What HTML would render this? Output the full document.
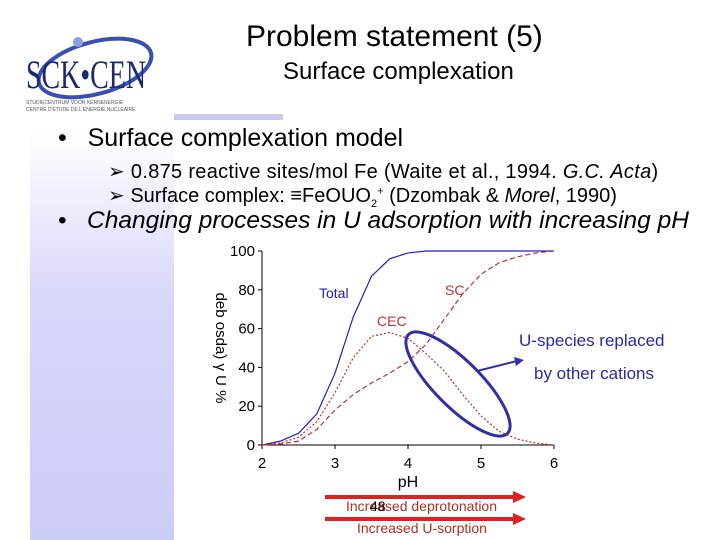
<!DOCTYPE html>
<html><head><meta charset="utf-8"><style>
body{margin:0;width:720px;height:540px;overflow:hidden;background:#fff;font-family:"Liberation Sans",sans-serif;position:relative}
.a{position:absolute;white-space:nowrap}
</style></head><body>
<div class="a" style="left:30px;top:130px;width:144px;height:410px;background:linear-gradient(#fff,#d8d8fa 40%,#ccccf8)"></div>
<div class="a" style="left:174px;top:114px;width:109px;height:6px;background:#c8c8f0"></div>
<svg class="a" style="left:20px;top:30px" width="140" height="85">
<ellipse cx="75" cy="38" rx="58" ry="26" fill="none" stroke="#3a4fb0" stroke-width="4" transform="rotate(-15 75 38)"/>
<circle cx="58" cy="12" r="5" fill="#8fa0e0"/>
<text x="6" y="58" font-family="Liberation Serif" font-size="40" fill="#1a2a70" textLength="120" lengthAdjust="spacingAndGlyphs">SCK•CEN</text>
<text x="6" y="74" font-size="5" fill="#555">STUDIECENTRUM VOOR KERNENERGIE</text>
<text x="6" y="81" font-size="5" fill="#555">CENTRE D'ETUDE DE L'ENERGIE NUCLEAIRE</text>
</svg>
<div class="a" style="left:246px;top:20px;font-size:30px">Problem statement (5)</div>
<div class="a" style="left:283px;top:58px;font-size:24px">Surface complexation</div>
<div class="a" style="left:58px;top:124px;font-size:25px">•&nbsp;&nbsp; Surface complexation model</div>
<div class="a" style="left:108px;top:159px;font-size:20px;letter-spacing:0.3px">➢ 0.875 reactive sites/mol Fe (Waite et al., 1994. <i>G.C. Acta</i>)</div>
<div class="a" style="left:108px;top:183px;font-size:20px;letter-spacing:0px">➢ Surface complex: ≡FeOUO<sub style="font-size:11px">2</sub><sup style="font-size:11px">+</sup> (Dzombak &amp; <i>Morel</i>, 1990)</div>
<div class="a" style="left:58px;top:207px;font-size:24.5px;letter-spacing:0px">•&nbsp;&nbsp; <i>Changing processes in U adsorption with increasing pH</i></div>
<svg id="chart" class="a" style="left:0;top:0" width="720" height="540"></svg>
<div class="a" style="left:519px;top:331px;font-size:17px;color:#2a2aa0">U-species replaced</div>
<div class="a" style="left:534px;top:364px;font-size:17px;color:#2a2aa0">by other cations</div>
<div class="a" style="left:346px;top:498px;font-size:14px;color:#b03020">Increased deprotonation</div>
<div class="a" style="left:370px;top:498px;font-size:14px;color:#000">48</div>
<div class="a" style="left:357px;top:520px;font-size:14px;color:#b03020">Increased U-sorption</div>
<script>
const pH=[2,2.25,2.5,2.75,3,3.25,3.5,3.75,4,4.25,4.5,4.75,5,5.25,5.5,5.75,6];
const total=[0,2,6,16,37,66,87,96,99,100,100,100,100,100,100,100,100];
const cec=[0,1,4,12,27,45,56,58,55,47,38,26,15,7,3,1,0];
const sc=[0,0.5,2,8,18,26,32,37,43,52,65,78,88,94,97,99,100];
const xTicks=[2,3,4,5,6];
const yTicks=[0,20,40,60,80,100];
const svg=document.getElementById('chart');const NS='http://www.w3.org/2000/svg';
const X=v=>262+(v-2)*73, Y=v=>445-v*1.94;
function mk(t,a,p){const e=document.createElementNS(NS,t);for(const k in a)e.setAttribute(k,a[k]);(p||svg).appendChild(e);return e;}
const ax=mk('path',{d:`M${X(2)},${Y(100)}V${Y(0)}H${X(6)}`,stroke:'#000',fill:'none','stroke-width':1});

xTicks.forEach(t=>{const l=mk('line',{x1:X(t),x2:X(t),y1:Y(0),y2:Y(0)+4,stroke:'#000'});
const tx=mk('text',{x:X(t),y:Y(0)+23,'font-size':15,'text-anchor':'middle'});tx.textContent=t;});
yTicks.forEach(t=>{const l=mk('line',{x1:X(2)-4,x2:X(2),y1:Y(t),y2:Y(t),stroke:'#000'});
const tx=mk('text',{x:X(2)-7,y:Y(t)+5,'font-size':15,'text-anchor':'end'});tx.textContent=t;});
const xt=mk('text',{x:X(4),y:487,'font-size':16,'text-anchor':'middle'});xt.textContent='pH';
const yt=mk('text',{x:0,y:0,'font-size':15,'text-anchor':'middle',transform:`translate(216,${Y(50)}) rotate(90)`});yt.textContent='deb osda) γ U %';
function line(vals,st,dash,name){const p=mk('path',{d:vals.map((v,i)=>(i?'L':'M')+X(pH[i])+','+Y(v)).join(''),fill:'none',stroke:st,'stroke-width':1.2,'stroke-dasharray':dash});}
line(total,'#2020c0','none','total-line');line(cec,'#c03030','2 2','cec-line');line(sc,'#c03030','5 3','sc-line');
[['Total',319,298,'#2020c0'],['CEC',377,326,'#c03030'],['SC',445,295,'#c03030']].forEach(([s,x,y,c])=>{const t=mk('text',{x,y,'font-size':14,fill:c});t.textContent=s;});
const el=mk('ellipse',{cx:458,cy:384,rx:70,ry:23,fill:'none',stroke:'#3030a0','stroke-width':3,transform:'rotate(45 458 384)'});
const ar=mk('path',{d:'M477,371L517,361',stroke:'#3030a0','stroke-width':2});
const ah=mk('path',{d:'M524,360L514,357L516,366Z',fill:'#3030a0'});
[497,519].forEach(y=>{const r=mk('path',{d:`M325,${y}H515`,stroke:'#e02020','stroke-width':4});
const h=mk('path',{d:`M526,${y}L513,${y-6}L513,${y+6}Z`,fill:'#e02020'});});
</script>
</body></html>
